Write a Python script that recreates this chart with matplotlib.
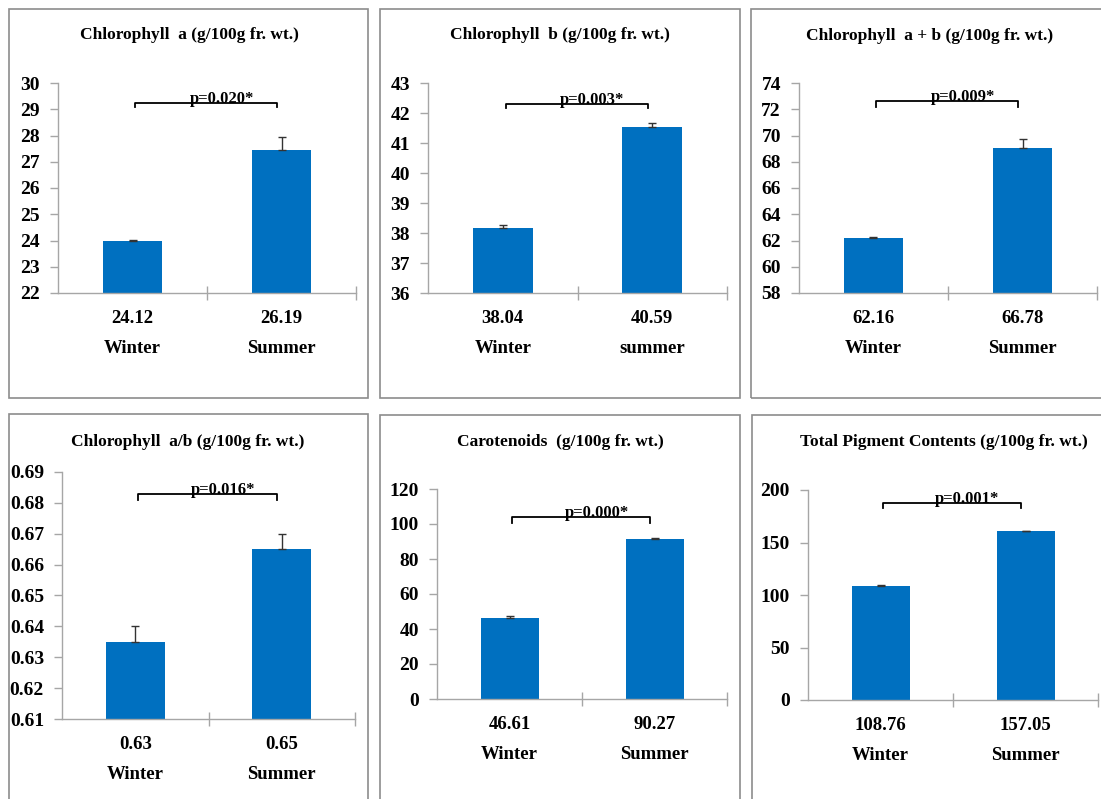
import matplotlib
matplotlib.use("Agg")
import matplotlib.pyplot as plt
from matplotlib.patches import Rectangle

plt.rcParams['font.family'] = ['Liberation Serif', 'DejaVu Serif']
plt.rcParams['font.weight'] = 'bold'

W, H = 1101, 799

# ---------------- data ----------------
titles = ["Chlorophyll  a (g/100g fr. wt.)",
          "Chlorophyll  b (g/100g fr. wt.)",
          "Chlorophyll  a + b (g/100g fr. wt.)",
          "Chlorophyll  a/b (g/100g fr. wt.)",
          "Carotenoids  (g/100g fr. wt.)",
          "Total Pigment Contents (g/100g fr. wt.)"]
season_labels = [["Winter", "Summer"], ["Winter", "summer"], ["Winter", "Summer"],
                 ["Winter", "Summer"], ["Winter", "Summer"], ["Winter", "Summer"]]
mean_labels = [["24.12", "26.19"], ["38.04", "40.59"], ["62.16", "66.78"],
               ["0.63", "0.65"], ["46.61", "90.27"], ["108.76", "157.05"]]
bar_values = [[24.0, 27.46], [38.18, 41.54], [62.2, 69.02],
              [0.635, 0.665], [46.5, 91.4], [108.8, 160.5]]
bar_errors = [[0.02, 0.5], [0.1, 0.12], [0.06, 0.7],
              [0.005, 0.005], [1.2, 0.4], [1.0, 0.8]]
p_labels = ["p=0.020*", "p=0.003*", "p=0.009*", "p=0.016*", "p=0.000*", "p=0.001*"]
bracket_y = [29.25, 42.3, 72.6, 0.683, 104, 187.6]
bracket_leg = [0.15, 0.13, 0.4, 0.002, 3.4, 4.7]
y_ticks = [[22, 23, 24, 25, 26, 27, 28, 29, 30],
           [36, 37, 38, 39, 40, 41, 42, 43],
           [58, 60, 62, 64, 66, 68, 70, 72, 74],
           [0.61, 0.62, 0.63, 0.64, 0.65, 0.66, 0.67, 0.68, 0.69],
           [0, 20, 40, 60, 80, 100, 120],
           [0, 50, 100, 150, 200]]
y_tick_fmt = ["{:.0f}", "{:.0f}", "{:.0f}", "{:.2f}", "{:.0f}", "{:.0f}"]

# ---------------- layout (pixels) ----------------
axes_px = [(58, 356, 83, 293), (428, 727, 83, 293), (799, 1097, 83, 293),
           (62, 355, 472, 719), (437, 727, 489, 699), (808, 1098, 490, 700)]
boxes_px = [(9, 368, 9, 398), (380, 740, 9, 398), (751, 1110, 9, 398),
            (9, 368, 414, 810), (380, 740, 415, 810), (752, 1110, 415, 810)]
title_px = [(189, 35), (560, 35), (930, 36), (188, 442), (560, 442), (944, 442)]

BAR = "#0070C0"
AXC = "#A6A6A6"
BOXC = "#8C8C8C"

fig = plt.figure(figsize=(W / 100, H / 100), dpi=100)

for (l, r, t, b) in boxes_px:
    fig.patches.append(Rectangle((l / W, 1 - b / H), (r - l) / W, (b - t) / H,
                                 transform=fig.transFigure, fill=False,
                                 edgecolor=BOXC, linewidth=1.2))

for i in range(6):
    l, r, t, b = axes_px[i]
    ax = fig.add_axes([l / W, 1 - b / H, (r - l) / W, (b - t) / H])
    x = [0, 1]
    ax.bar(x, bar_values[i], width=0.4, color=BAR, zorder=2,
           yerr=[[0, 0], bar_errors[i]], ecolor="#333333",
           error_kw=dict(elinewidth=1.0, capsize=3, capthick=1.0))
    ax.set_xlim(-0.5, 1.5)
    yt = y_ticks[i]
    ax.set_ylim(yt[0], yt[-1])
    ax.set_yticks(yt)
    ax.set_yticklabels([y_tick_fmt[i].format(v) for v in yt], fontsize=14,
                       fontweight='bold')
    ax.tick_params(axis='y', direction='out', length=6, width=1, color=AXC, pad=7)
    ax.set_xticks([0.5, 1.5])
    ax.set_xticklabels([])
    ax.tick_params(axis='x', direction='inout', length=10, width=1, color=AXC)
    for s in ('top', 'right'):
        ax.spines[s].set_visible(False)
    for s in ('left', 'bottom'):
        ax.spines[s].set_color(AXC)
        ax.spines[s].set_linewidth(1.0)
    ax.set_facecolor('none')

    for j in range(2):
        ax.annotate(mean_labels[i][j], xy=(x[j], 0), xycoords=('data', 'axes fraction'),
                    xytext=(0, -18.5), textcoords='offset points',
                    ha='center', va='center', fontsize=13.5, fontweight='bold')
        ax.annotate(season_labels[i][j], xy=(x[j], 0), xycoords=('data', 'axes fraction'),
                    xytext=(0, -40), textcoords='offset points',
                    ha='center', va='center', fontsize=13.5, fontweight='bold')

    by = bracket_y[i]
    lg = bracket_leg[i]
    ax.plot([0.02, 0.02, 0.97, 0.97], [by - lg, by, by, by - lg], color='black',
            lw=1.3, clip_on=False, zorder=3)
    ax.text(0.6, by, p_labels[i], ha='center', va='baseline', fontsize=12,
            fontweight='bold', zorder=4)

    tx, ty = title_px[i]
    fig.text(tx / W, 1 - ty / H, titles[i], ha='center', va='center',
             fontsize=12.5, fontweight='bold')

fig.savefig("out.png", dpi=100)
